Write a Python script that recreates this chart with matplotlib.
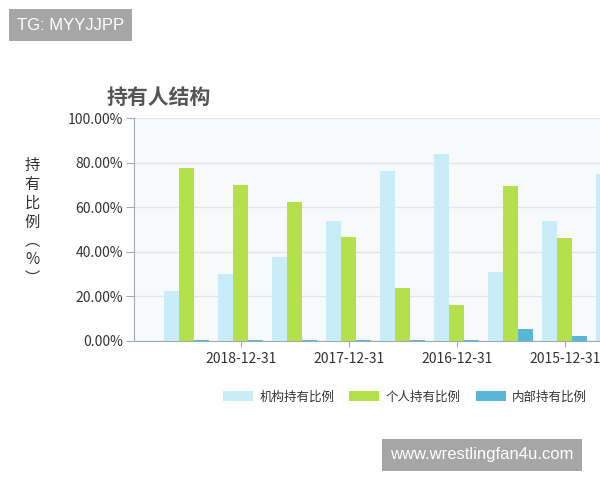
import matplotlib
matplotlib.use("Agg")
import matplotlib.pyplot as plt
import numpy as np
from matplotlib.patches import Patch

plt.rcParams['font.family'] = ['Noto Sans CJK SC', 'DejaVu Sans']

categories = ['2019-06-30', '2018-12-31', '2018-06-30', '2017-12-31', '2017-06-30',
              '2016-12-31', '2016-06-30', '2015-12-31', '2015-06-30']
institution = [22.4, 30.2, 37.5, 53.7, 76.4, 83.7, 30.8, 53.7, 74.8]
individual = [77.4, 69.8, 62.2, 46.6, 23.8, 16.1, 69.4, 46.0, 25.0]
insider = [0.5, 0.4, 0.4, 0.3, 0.3, 0.3, 5.2, 2.2, 0.2]
series_names = ['机构持有比例', '个人持有比例', '内部持有比例']
colors = ['#c8ecf8', '#b4e14b', '#58b6d6']
yticks = [0, 20, 40, 60, 80, 100]

fig = plt.figure(figsize=(6, 4.8), dpi=100)
ax = fig.add_axes([134/600, 1-341/480, 466/600, 223/480])
ax.set_facecolor('#f8f9fb')

x = np.arange(len(categories))
w = 0.278
for i, (vals, c) in enumerate(zip([institution, individual, insider], colors)):
    ax.bar(x + (i - 1) * w, vals, width=w, color=c, edgecolor='none', zorder=3)

ax.set_ylim(0, 100)
ax.set_xlim(-0.98, 7.65)
ax.set_yticks(yticks)
ax.set_yticklabels([f'{v:.2f}%' for v in yticks], fontsize=10, color='#333333')
ax.yaxis.grid(True, color='#e3e5e8', linewidth=1, zorder=0)
ax.set_axisbelow(True)

tick_idx = [i for i, c in enumerate(categories) if c.endswith('12-31')]
ax.set_xticks(tick_idx)
ax.set_xticklabels([categories[i] for i in tick_idx], fontsize=10, color='#333333')
ax.tick_params(axis='x', length=4, color='#a0a8b0', pad=4)
ax.tick_params(axis='y', length=6, color='#a0a8b0', pad=2)

for s in ['top', 'right']:
    ax.spines[s].set_visible(False)
ax.spines['left'].set_color('#a0a8b0')
ax.spines['bottom'].set_color('#a0a8b0')

fig.text(107/600, 1-97/480, '持有人结构', fontsize=15, fontweight='bold',
         color='#555555', ha='left', va='center')

fig.text(32/600, 1-222/480, '持\n有\n比\n例\n︵\n%\n︶', fontsize=11, color='#333333',
         ha='center', va='center', linespacing=1.15)

handles = [Patch(facecolor=c, edgecolor='none') for c in colors]
fig.legend(handles, series_names, loc='center', bbox_to_anchor=(405/600, 1-397/480),
           ncol=3, frameon=False, fontsize=9, handlelength=2.4, handleheight=0.8,
           columnspacing=1.2, handletextpad=0.5, labelcolor='#333333')

fig.text(17/600, 1-25/480, 'TG: MYYJJPP', fontsize=12, color='white', ha='left', va='center',
         family=['Liberation Sans', 'DejaVu Sans'],
         bbox=dict(boxstyle='square,pad=0.5', facecolor='#a6a6a6', edgecolor='none'))
fig.text(390/600, 1-455/480, 'www.wrestlingfan4u.com', fontsize=12, color='white',
         ha='left', va='center', family=['Liberation Sans', 'DejaVu Sans'],
         bbox=dict(boxstyle='square,pad=0.5', facecolor='#a6a6a6', edgecolor='none'))

fig.savefig('out.png', dpi=100)
